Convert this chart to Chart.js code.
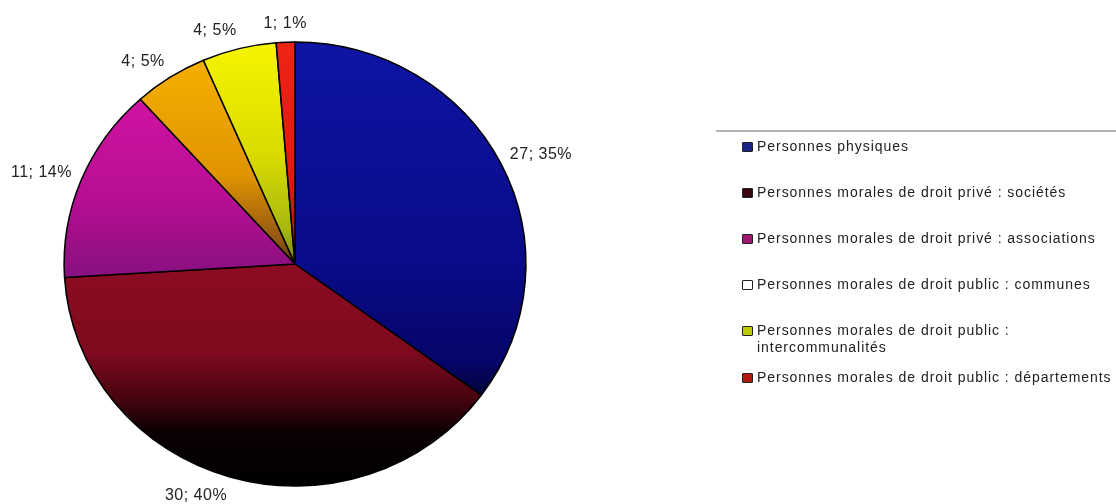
<!DOCTYPE html>
<html lang="fr">
<head>
<meta charset="utf-8">
<title>Répartition des demandeurs</title>
<script src="https://cdn.jsdelivr.net/npm/chart.js@4.4.1/dist/chart.umd.min.js"></script>
<style>
  html, body { margin: 0; padding: 0; background: #fff; }
  #wrap { position: relative; width: 1116px; height: 504px; overflow: hidden; }
  #wrap canvas { position: absolute; left: 0; top: 0; }
  #legend {
    position: absolute; left: 716px; top: 130px; width: 400px;
    border-top: 2px solid #b4b4b4; padding-top: 6px;
    font-family: Arial, "Liberation Sans", sans-serif; font-size: 14px;
    letter-spacing: 0.95px; color: #222;
  }
  #legend .item { position: relative; padding-left: 41px; line-height: 17px; margin-top: 29px; white-space: nowrap; }
  #legend .item:first-child { margin-top: 0; }
  #legend .item.wrap { white-space: normal; width: 318px; }
  #legend .item.after-wrap { margin-top: 13px; }
  #legend .box { position: absolute; left: 26px; top: 4px; width: 9px; height: 8px; border: 1px solid #222; border-radius: 1px; }
</style>
</head>
<body>
<div id="wrap">
  <canvas id="pie" width="1116" height="504"></canvas>
  <div id="legend"></div>
</div>
<script>
// données
const categories = [
  'Personnes physiques',
  'Personnes morales de droit privé : sociétés',
  'Personnes morales de droit privé : associations',
  'Personnes morales de droit public : communes',
  'Personnes morales de droit public : intercommunalités',
  'Personnes morales de droit public : départements'
];
const counts = [27, 30, 11, 4, 4, 1];
const percents = [35, 40, 14, 5, 5, 1];

// dégradés verticaux des parts (haut -> bas du camembert)
const sliceStops = [
  [[0, '#0e14a4'], [0.5, '#0a0b88'], [0.72, '#05056a'], [0.82, '#010128'], [0.9, '#000000']],
  [[0, '#a01028'], [0.5, '#8c0c22'], [0.7, '#7e0a1e'], [0.8, '#4a0410'], [0.88, '#0a0002'], [1, '#000000']],
  [[0, '#dc16ac'], [0.35, '#b80e94'], [0.52, '#8a1080'], [1, '#300020']],
  [[0, '#f8b400'], [0.3, '#e09400'], [0.45, '#905414'], [0.52, '#3a2a10']],
  [[0, '#f6f400'], [0.25, '#dadc00'], [0.42, '#a8b810'], [0.52, '#6a7a18']],
  [[0, '#ee2414'], [0.3, '#e01a10'], [0.52, '#a01808']]
];
const legendBoxColors = ['#1a2288', '#3a0612', '#a0186e', '#ffffff', '#bccc00', '#b01a10'];

const pieRadius = 222;
const stretchX = 1.04; // le scan est un peu étiré en largeur

function sliceFill(ctx) {
  const chart = ctx.chart;
  const area = chart.chartArea;
  if (!area) return sliceStops[ctx.dataIndex][0][1];
  const cy = (area.top + area.bottom) / 2;
  const g = chart.ctx.createLinearGradient(0, cy - pieRadius, 0, cy + pieRadius);
  sliceStops[ctx.dataIndex].forEach(([p, c]) => g.addColorStop(p, c));
  return g;
}

// étire le camembert et écrit les étiquettes "valeur; %"
const pieExtras = {
  id: 'pieExtras',
  beforeDatasetsDraw(chart) {
    const arc = chart.getDatasetMeta(0).data[0];
    const ctx = chart.ctx;
    ctx.save();
    ctx.translate(arc.x, 0);
    ctx.scale(stretchX, 1);
    ctx.translate(-arc.x, 0);
  },
  afterDatasetsDraw(chart) {
    const ctx = chart.ctx;
    ctx.restore();
    ctx.save();
    ctx.font = '16px Arial, "Liberation Sans", sans-serif';
    ctx.fillStyle = '#222';
    ctx.letterSpacing = '0.5px';
    ctx.textBaseline = 'middle';
    chart.getDatasetMeta(0).data.forEach((arc, i) => {
      const mid = (arc.startAngle + arc.endAngle) / 2;
      const cos = Math.cos(mid), sin = Math.sin(mid);
      const x = arc.x + cos * (arc.outerRadius * stretchX + 10);
      const y = arc.y + sin * (arc.outerRadius + 10) + sin * 9;
      ctx.textAlign = cos > 0.1 ? 'left' : (cos < -0.1 ? 'right' : 'center');
      ctx.fillText(counts[i] + '; ' + percents[i] + '%', x, y);
    });
    ctx.restore();
  }
};

const chart = new Chart(document.getElementById('pie'), {
  type: 'pie',
  data: {
    labels: categories,
    datasets: [{
      data: counts,
      backgroundColor: sliceFill,
      borderColor: '#000',
      borderWidth: 1.5,
      radius: pieRadius
    }]
  },
  options: {
    responsive: false,
    animation: false,
    events: [],
    layout: { padding: { left: 0, right: 526, top: 24, bottom: 0 } },
    plugins: {
      legend: { display: false },
      tooltip: { enabled: false }
    }
  },
  plugins: [pieExtras]
});

// légende en HTML, à droite
const legendEl = document.getElementById('legend');
categories.forEach((label, i) => {
  const item = document.createElement('div');
  item.className = 'item' + (i === 4 ? ' wrap' : '') + (i === 5 ? ' after-wrap' : '');
  const box = document.createElement('span');
  box.className = 'box';
  box.style.background = legendBoxColors[i];
  item.appendChild(box);
  item.appendChild(document.createTextNode(label));
  legendEl.appendChild(item);
});
</script>
</body>
</html>
